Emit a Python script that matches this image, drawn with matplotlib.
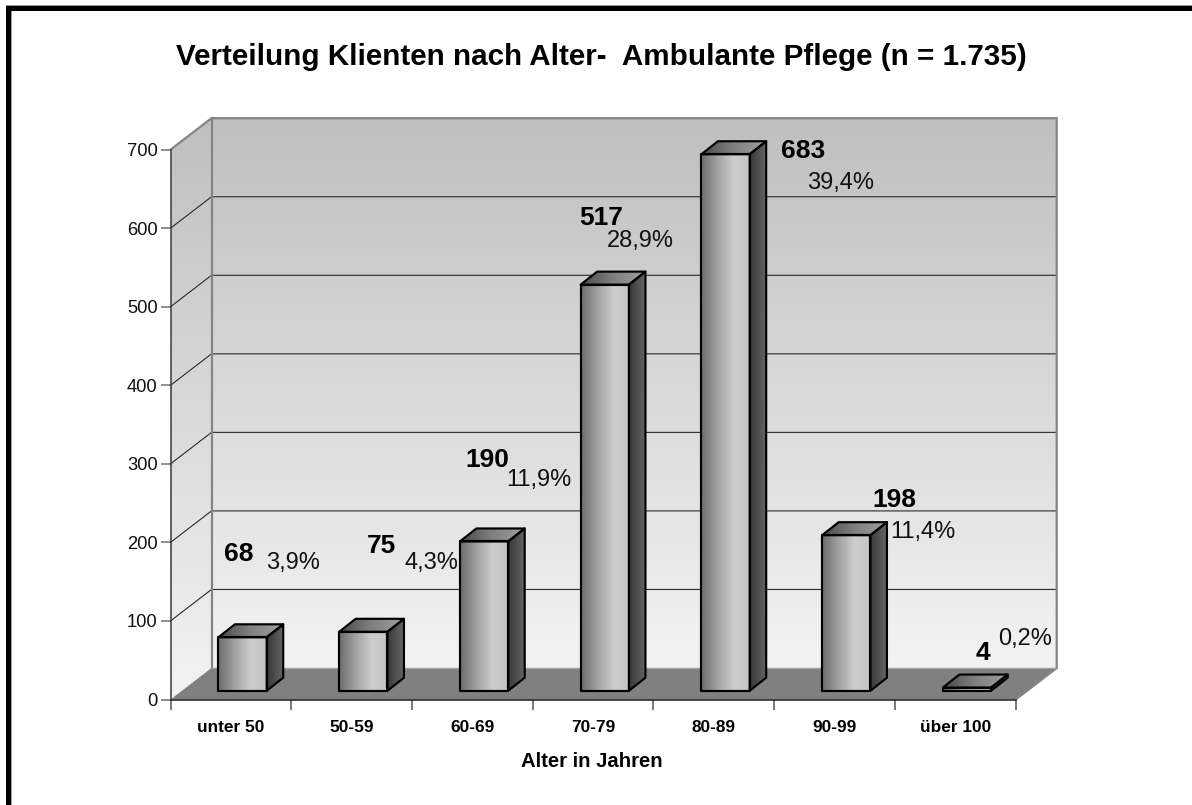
import numpy as np
import matplotlib
matplotlib.use("Agg")
import matplotlib.pyplot as plt
from matplotlib.colors import LinearSegmentedColormap
from matplotlib.patches import Polygon, Rectangle

# ---------- data ----------
categories = ["unter 50", "50-59", "60-69", "70-79", "80-89", "90-99", "über 100"]
counts = [68, 75, 190, 517, 683, 198, 4]
percents = ["3,9%", "4,3%", "11,9%", "28,9%", "39,4%", "11,4%", "0,2%"]
y_ticks = [0, 100, 200, 300, 400, 500, 600, 700]
title = "Verteilung Klienten nach Alter-  Ambulante Pflege (n = 1.735)"
xlabel = "Alter in Jahren"

# ---------- layout (pixels of the 1192x805 canvas) ----------
W, H = 1192, 805
count_pos = [(239, 554), (382, 546), (487, 460), (601, 218), (803, 151), (894, 500), (983, 653)]
pct_pos = [(293, 563), (431, 563), (539, 480), (640, 241), (841, 183), (923, 532), (1025, 639)]
FRONT_L, FRONT_R, FRONT_B, FRONT_T = 170.5, 1015.7, 699.5, 149.7
BACK_DX, BACK_DY = 41.0, 31.5      # wall depth
BAR_OX, BAR_OY = 11.7, 8.8         # bar front offset from the front plane
BAR_DX, BAR_DY = 16.5, 13.0        # bar depth
BAR_W = 0.40

plt.rcParams["font.family"] = ["Liberation Sans", "DejaVu Sans"]

fig = plt.figure(figsize=(W / 100, H / 100), dpi=100, facecolor="white")
ax = fig.add_axes([FRONT_L / W, 1 - FRONT_B / H, (FRONT_R - FRONT_L) / W, (FRONT_B - FRONT_T) / H])
ax.patch.set_alpha(0)
n = len(categories)
ax.set_xlim(0, n)
ax.set_ylim(0, 700)

ux = n / (FRONT_R - FRONT_L)
uy = 700 / (FRONT_B - FRONT_T)
bdx, bdy = BACK_DX * ux, BACK_DY * uy


def gradient(verts, colors, horizontal, z):
    """Fill a polygon (data coords) with a linear grey gradient."""
    verts = np.asarray(verts)
    x0, x1, y0, y1 = verts[:, 0].min(), verts[:, 0].max(), verts[:, 1].min(), verts[:, 1].max()
    cmap = LinearSegmentedColormap.from_list("g", colors)
    arr = np.linspace(0, 1, 256)
    arr = arr[None, :] if horizontal else arr[:, None]
    im = ax.imshow(arr, cmap=cmap, vmin=0, vmax=1, extent=(x0, x1, y0, y1), origin="lower",
                   aspect="auto", interpolation="bilinear", zorder=z)
    clip = Polygon(verts, closed=True, fill=False, edgecolor="none", zorder=z, clip_on=False)
    ax.add_patch(clip)
    im.set_clip_box(fig.bbox)
    im.set_clip_path(clip)


wall_colors = ["#f3f3f3", "#bfbfbf"]
# back wall and left wall
gradient([(bdx, bdy), (n + bdx, bdy), (n + bdx, 700 + bdy), (bdx, 700 + bdy)], wall_colors, False, 1)
gradient([(0, 0), (bdx, bdy), (bdx, 700 + bdy), (0, 700)], wall_colors, False, 1)
# floor
ax.add_patch(Polygon([(0, 0), (n, 0), (n + bdx, bdy), (bdx, bdy)], closed=True, facecolor="#808080",
                     edgecolor="none", zorder=2, clip_on=False))

# gridlines
for v in y_ticks[1:-1]:
    ax.plot([0, bdx, n + bdx], [v, v + bdy, v + bdy], color="#2a2a2a", lw=0.8, zorder=2, clip_on=False)
# wall borders
edge = "#858585"
ax.plot([0, bdx, n + bdx, n + bdx, n], [700, 700 + bdy, 700 + bdy, bdy, 0], color=edge, lw=1.6,
        zorder=3, clip_on=False, solid_joinstyle="miter")
ax.plot([bdx, bdx], [bdy, 700 + bdy], color=edge, lw=1.6, zorder=3, clip_on=False)
ax.plot([bdx, n + bdx], [bdy, bdy], color="#a0a0a0", lw=1.0, zorder=3, clip_on=False)

# bars
ox, oy = BAR_OX * ux, BAR_OY * uy
dx, dy = BAR_DX * ux, BAR_DY * uy
front_cols = ["#6c6c6c", "#a0a0a0", "#cdcdcd", "#c4c4c4"]
top_cols = ["#4a4a4a", "#808080", "#a0a0a0"]
side_cols = ["#383838", "#666666"]
for i, v in enumerate(counts):
    z = 5 + i
    left = i + 0.5 - BAR_W / 2 + ox
    right = left + BAR_W
    base = oy
    top = oy + v
    front = [(left, base), (right, base), (right, top), (left, top)]
    roof = [(left, top), (right, top), (right + dx, top + dy), (left + dx, top + dy)]
    side = [(right, base), (right + dx, base + dy), (right + dx, top + dy), (right, top)]
    gradient(front, front_cols, True, z)
    gradient(roof, top_cols, True, z)
    gradient(side, side_cols, True, z)
    for poly in (front, roof, side):
        ax.add_patch(Polygon(poly, closed=True, fill=False, edgecolor="black", lw=1.55,
                             joinstyle="round", zorder=z + 0.5, clip_on=False))

# axes furniture
for s in ("top", "right"):
    ax.spines[s].set_visible(False)
ax.spines["left"].set_color("#3a3a3a")
ax.spines["left"].set_linewidth(1.1)
ax.spines["bottom"].set_color("#1a1a1a")
ax.spines["bottom"].set_linewidth(1.1)
for s in ax.spines.values():
    s.set_zorder(20)
ax.set_yticks(y_ticks)
ax.set_yticklabels([str(v) for v in y_ticks], fontsize=13.2, color="#111111")
ax.tick_params(axis="y", length=7.2, width=1.1, color="#707070", pad=2)
ax.set_xticks(range(n + 1))
ax.set_xticklabels([""] * (n + 1))
ax.tick_params(axis="x", which="major", length=7.2, width=1.1, color="#555555")
ax.set_xticks(np.arange(n) + 0.5, minor=True)
ax.set_xticklabels(categories, minor=True, fontsize=12.4, fontweight="bold", color="black")
ax.tick_params(axis="x", which="minor", length=0, pad=15)
ax.set_xlim(0, n)
ax.set_ylim(0, 700)


def ptext(x, y, s, **kw):
    fig.text(x / W, 1 - y / H, s, ha="center", va="center", zorder=30, **kw)


for c, p, s, t in zip(counts, count_pos, percents, pct_pos):
    ptext(p[0], p[1], str(c), fontsize=19, fontweight="bold", color="black")
    ptext(t[0], t[1], s, fontsize=17, color="#111111")

ptext(601, 57, title, fontsize=21.3, fontweight="bold", color="black")
ptext(591.5, 761, xlabel, fontsize=14.6, fontweight="bold", color="black")

# black frame, open on the right and at the bottom
def prect(x0, y0, x1, y1, c, z=40):
    fig.add_artist(Rectangle((x0 / W, 1 - y1 / H), (x1 - x0) / W, (y1 - y0) / H, transform=fig.transFigure,
                             facecolor=c, edgecolor="none", zorder=z))

prect(6, 5, W, 6, "#9a9a9a")
prect(6, 6, W, 11, "black")
prect(6, 6, 11, H, "black")
prect(11, 11, 12, H, "#9a9a9a")

fig.savefig("out.png", dpi=100)
